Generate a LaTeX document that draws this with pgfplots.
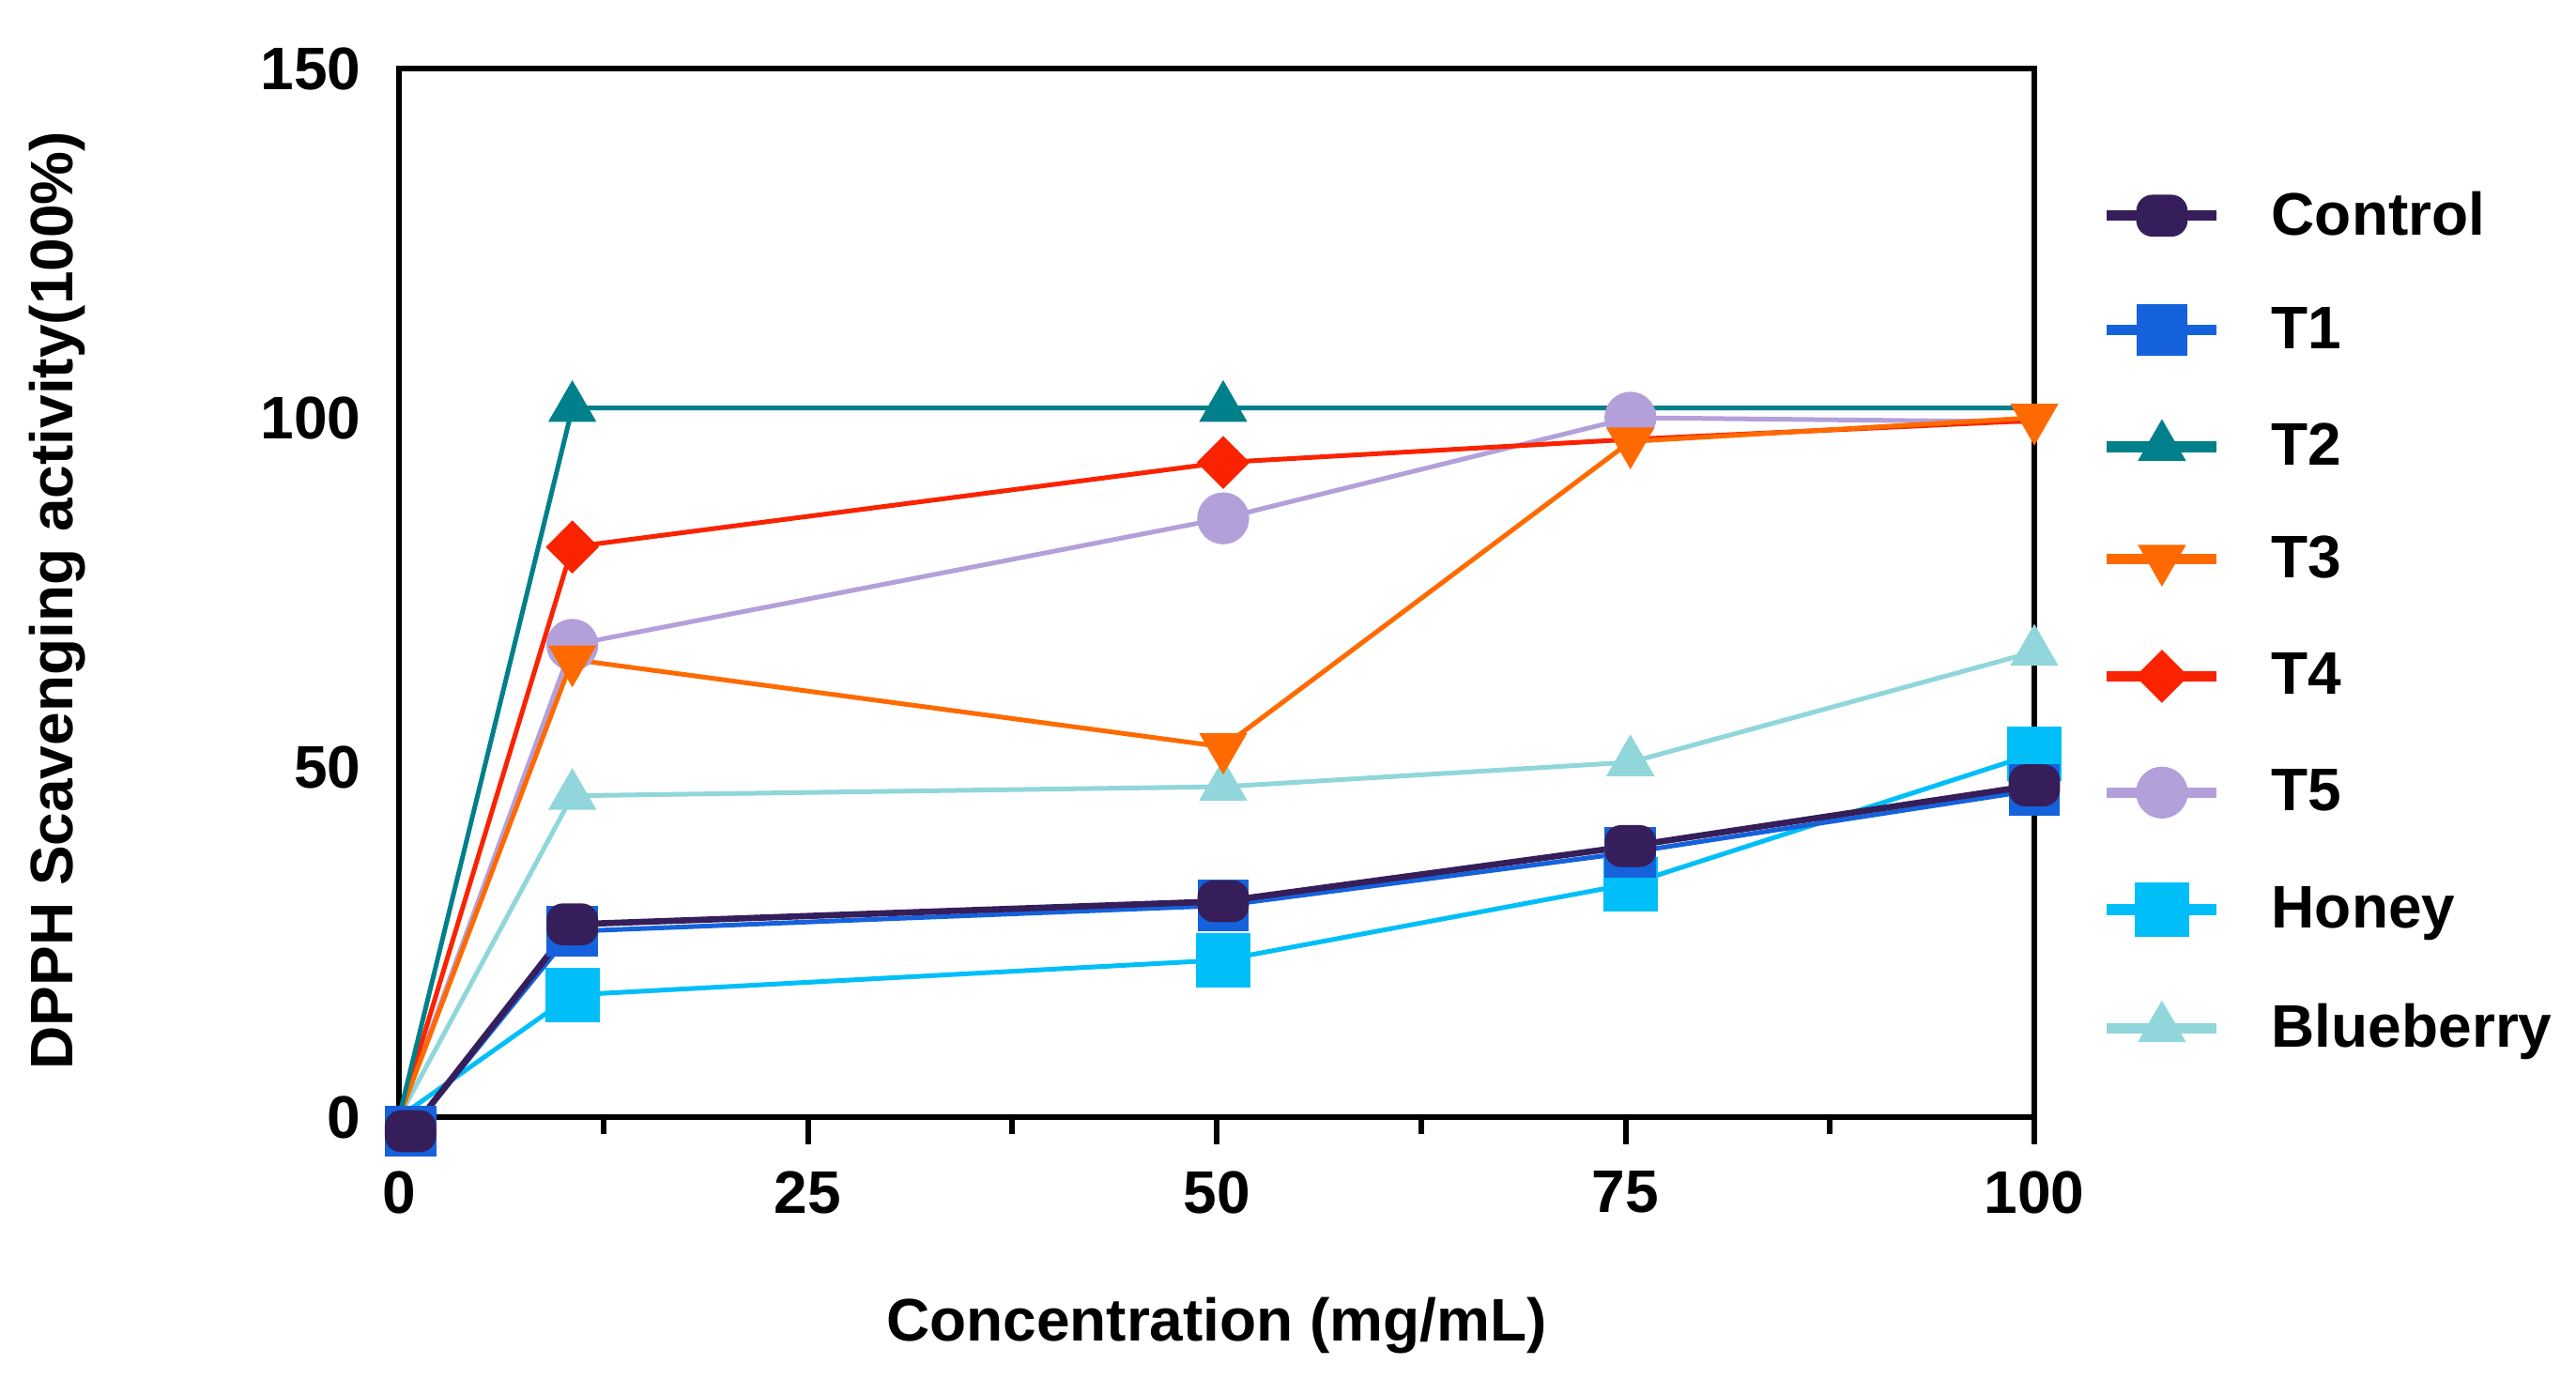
\documentclass[border=0pt]{standalone}
\usepackage{fontspec}
\setmainfont{Liberation Sans}
\usepackage{pgfplots}
\pgfplotsset{compat=1.18}

\definecolor{ctrl}{HTML}{351E5A}
\definecolor{tone}{HTML}{1562DC}
\definecolor{ttwo}{HTML}{00808A}
\definecolor{tthree}{HTML}{FF6A00}
\definecolor{tfour}{HTML}{FA2300}
\definecolor{tfive}{HTML}{B3A0DA}
\definecolor{honey}{HTML}{00BFF8}
\definecolor{blueb}{HTML}{90D6DA}

% rounded box marker used for Control
\pgfdeclareplotmark{rrect}{%
  \pgfpathmoveto{\pgfpoint{-3pt}{-6.5pt}}%
  \pgfpathlineto{\pgfpoint{3pt}{-6.5pt}}%
  \pgfpathcurveto{\pgfpoint{5.76pt}{-6.5pt}}{\pgfpoint{8pt}{-4.26pt}}{\pgfpoint{8pt}{-1.5pt}}%
  \pgfpathlineto{\pgfpoint{8pt}{1.5pt}}%
  \pgfpathcurveto{\pgfpoint{8pt}{4.26pt}}{\pgfpoint{5.76pt}{6.5pt}}{\pgfpoint{3pt}{6.5pt}}%
  \pgfpathlineto{\pgfpoint{-3pt}{6.5pt}}%
  \pgfpathcurveto{\pgfpoint{-5.76pt}{6.5pt}}{\pgfpoint{-8pt}{4.26pt}}{\pgfpoint{-8pt}{1.5pt}}%
  \pgfpathlineto{\pgfpoint{-8pt}{-1.5pt}}%
  \pgfpathcurveto{\pgfpoint{-8pt}{-4.26pt}}{\pgfpoint{-5.76pt}{-6.5pt}}{\pgfpoint{-3pt}{-6.5pt}}%
  \pgfpathclose
  \pgfusepathqfillstroke}

\newcommand{\bigbf}{\fontsize{19.2}{23}\selectfont\bfseries}

\begin{document}
\begin{tikzpicture}
\begin{axis}[
  scale only axis, width=522.6pt, height=335pt,
  xmin=0, xmax=100, ymin=0, ymax=150,
  clip=false,
  axis line style={line width=1.8pt},
  tick align=outside,
  xtick={0,25,50,75,100}, minor xtick={12.5,37.5,62.5,87.5},
  ytick={0,50,100,150},
  xtick pos=bottom, ytick pos=left,
  ytick style={draw=none},
  xtick style={line width=1.8pt, black},
  major tick length=8.7pt, minor tick length=5.4pt,
  tick label style={font=\bigbf},
  xticklabel style={yshift=-5pt},
  /pgf/number format/assume math mode=true,
  xlabel={Concentration (mg/mL)},
  ylabel={DPPH Scavenging activity(100\%)},
  label style={font=\bigbf},
  xlabel style={at={(axis description cs:0.5,-0.199)}, anchor=center},
  ylabel style={at={(axis description cs:-0.209,0.493)}, anchor=center},
  every axis plot/.append style={line width=1.5pt},
  legend style={at={(1.0408,0.4725)}, anchor=west, draw=none, fill=none,
    inner sep=0pt, font=\bigbf, row sep=20.85pt, column sep=15.8pt,
    nodes={inner sep=0pt}},
  legend cell align=left,
  reverse legend,
  legend image code/.code={
    \draw[line width=3.4pt, mark=none] (0pt,0pt) -- (35.1pt,0pt);
    \draw[mark indices={1}] plot coordinates {(17.55pt,0pt)};
  },
]
\addplot[color=blueb, mark=triangle*, mark size=8.5pt, mark indices={2,3,4,5},
  mark options={solid, line width=0.4pt}]
  coordinates {(0,0) (10.6,46) (50.4,47.3) (75.3,50.8) (100,66.6)};
\addlegendentry{Blueberry}
\addplot[color=honey, mark=square*, mark size=8.5pt, mark indices={2,3,4,5},
  mark options={solid, line width=0.4pt}]
  coordinates {(0,0) (10.6,17.5) (50.4,22.5) (75.3,33.4) (100,52)};
\addlegendentry{Honey}
\addplot[color=tfive, mark=*, mark size=8.1pt, mark indices={2,3,4},
  mark options={solid, line width=0.4pt}]
  coordinates {(0,0) (10.6,67.6) (50.4,85.7) (75.3,100.1) (100,99.5)};
\addlegendentry{T5}
\addplot[color=tfour, mark=square*, mark size=5.8pt, mark indices={2,3},
  mark options={solid, line width=0.4pt, rotate=45}]
  coordinates {(0,0) (10.6,81.6) (50.4,93.7) (75.3,97) (100,99.7)};
\addlegendentry{T4}
\addplot[color=tthree, mark=triangle*, mark size=8.5pt, mark indices={2,3,4,5},
  mark options={solid, line width=0.4pt, rotate=180}]
  coordinates {(0,0) (10.6,65.5) (50.4,53) (75.3,96.7) (100,100.1)};
\addlegendentry{T3}
\addplot[color=ttwo, mark=triangle*, mark size=8.5pt, mark indices={2,3},
  mark options={solid, line width=0.4pt}]
  coordinates {(0,0) (10.6,101.5) (50.4,101.5) (75.3,101.5) (100,101.5)};
\addlegendentry{T2}
\addplot[color=tone, mark=square*, mark size=8pt,
  mark options={solid, line width=0.4pt}]
  coordinates {(0.7,-2) (10.6,26.6) (50.4,30.3) (75.3,37.9) (100,46.8)};
\addlegendentry{T1}
\addplot[color=ctrl, line width=2pt, mark=rrect,
  mark options={solid, line width=0.4pt}]
  coordinates {(0.7,-2) (10.6,27.6) (50.4,30.9) (75.3,38.8) (100,47.5)};
\addlegendentry{Control}
\coordinate (O) at (rel axis cs:0,0);
\coordinate (T) at (rel axis cs:1,1);
\end{axis}
\pgfresetboundingbox
\path[use as bounding box] ([shift={(-127.5pt,-83.4pt)}]O) rectangle ([shift={(173.1pt,22.05pt)}]T);
\end{tikzpicture}
\end{document}
